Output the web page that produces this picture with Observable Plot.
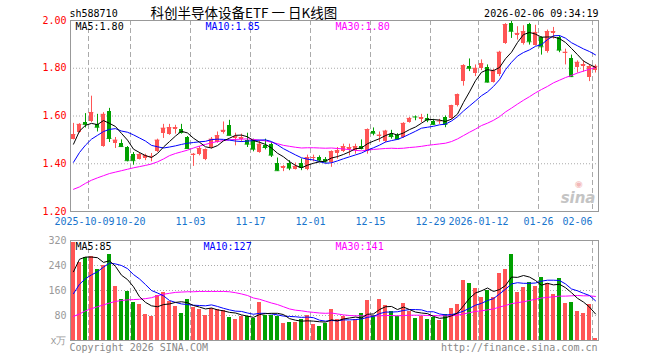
<!DOCTYPE html>
<html><head><meta charset="utf-8">
<script src="https://cdn.jsdelivr.net/npm/d3@7"></script>
<script src="https://cdn.jsdelivr.net/npm/@observablehq/plot@0.6"></script>
<style>
body{margin:0;background:#fff;}
#chart{position:relative;width:660px;height:360px;overflow:hidden;background:#fff;}
#chart svg{position:absolute;left:0;}
</style></head><body><div id="chart"></div>
<script>
const dates = ["2025-09-26","2025-09-29","2025-09-30","2025-10-09","2025-10-10","2025-10-13","2025-10-14","2025-10-15","2025-10-16","2025-10-17","2025-10-20","2025-10-21","2025-10-22","2025-10-23","2025-10-24","2025-10-27","2025-10-28","2025-10-29","2025-10-30","2025-10-31","2025-11-03","2025-11-04","2025-11-05","2025-11-06","2025-11-07","2025-11-10","2025-11-11","2025-11-12","2025-11-13","2025-11-14","2025-11-17","2025-11-18","2025-11-19","2025-11-20","2025-11-21","2025-11-24","2025-11-25","2025-11-26","2025-11-27","2025-11-28","2025-12-01","2025-12-02","2025-12-03","2025-12-04","2025-12-05","2025-12-08","2025-12-09","2025-12-10","2025-12-11","2025-12-12","2025-12-15","2025-12-16","2025-12-17","2025-12-18","2025-12-19","2025-12-22","2025-12-23","2025-12-24","2025-12-25","2025-12-26","2025-12-29","2025-12-30","2025-12-31","2026-01-05","2026-01-06","2026-01-07","2026-01-08","2026-01-09","2026-01-12","2026-01-13","2026-01-14","2026-01-15","2026-01-16","2026-01-19","2026-01-20","2026-01-21","2026-01-22","2026-01-23","2026-01-26","2026-01-27","2026-01-28","2026-01-29","2026-01-30","2026-02-02","2026-02-03","2026-02-04","2026-02-05","2026-02-06"];

const open = [
1.503,1.531,1.572,1.578,1.565,1.472,1.618,1.486,1.486,1.468,
1.438,1.419,1.424,1.425,1.453,1.528,1.524,1.544,1.544,1.510,
1.436,1.440,1.417,1.466,1.489,1.531,1.561,1.506,1.503,1.499,
1.496,1.447,1.475,1.482,1.403,1.382,1.399,1.378,1.399,1.378,
1.420,1.426,1.417,1.405,1.444,1.450,1.458,1.457,1.472,1.450,
1.535,1.514,1.492,1.524,1.520,1.510,1.572,1.600,1.586,1.589,
1.579,1.575,1.593,1.589,1.642,1.745,1.807,1.776,1.800,1.803,
1.742,1.773,1.904,1.988,1.936,1.904,1.983,1.897,1.928,1.870,
1.946,1.928,1.860,1.839,1.803,1.807,1.761,1.790];
const high = [
1.569,1.568,1.610,1.683,1.607,1.614,1.632,1.510,1.500,1.472,
1.447,1.447,1.440,1.443,1.503,1.565,1.565,1.561,1.565,1.514,
1.443,1.472,1.462,1.510,1.533,1.575,1.582,1.528,1.524,1.528,
1.503,1.496,1.503,1.489,1.424,1.392,1.413,1.403,1.420,1.436,
1.436,1.433,1.426,1.454,1.468,1.482,1.482,1.482,1.500,1.546,
1.550,1.533,1.540,1.540,1.526,1.572,1.594,1.600,1.607,1.607,
1.586,1.586,1.600,1.645,1.692,1.815,1.839,1.814,1.835,1.814,
1.795,1.871,1.987,2.000,1.974,1.978,1.988,1.980,1.932,1.960,
1.971,1.936,1.880,1.855,1.831,1.831,1.814,1.814];
const low = [
1.500,1.528,1.550,1.572,1.533,1.469,1.489,1.464,1.468,1.408,
1.394,1.416,1.413,1.408,1.447,1.506,1.519,1.524,1.524,1.461,
1.389,1.433,1.413,1.462,1.486,1.524,1.517,1.475,1.489,1.468,
1.450,1.444,1.458,1.426,1.368,1.367,1.371,1.374,1.371,1.371,
1.408,1.405,1.403,1.385,1.419,1.447,1.433,1.440,1.458,1.440,
1.517,1.490,1.488,1.503,1.500,1.506,1.570,1.580,1.572,1.572,
1.560,1.565,1.551,1.585,1.638,1.725,1.786,1.765,1.790,1.738,
1.738,1.765,1.900,1.925,1.918,1.897,1.897,1.893,1.855,1.863,
1.922,1.865,1.814,1.761,1.780,1.784,1.744,1.780];
const close = [
1.522,1.565,1.565,1.614,1.553,1.607,1.506,1.499,1.472,1.413,
1.413,1.439,1.433,1.431,1.499,1.549,1.551,1.551,1.531,1.464,
1.440,1.464,1.458,1.503,1.517,1.540,1.519,1.514,1.510,1.482,
1.461,1.482,1.468,1.436,1.371,1.388,1.382,1.389,1.385,1.426,
1.426,1.412,1.408,1.450,1.454,1.472,1.468,1.472,1.464,1.543,
1.528,1.520,1.537,1.514,1.503,1.569,1.590,1.596,1.593,1.583,
1.565,1.579,1.565,1.642,1.688,1.810,1.800,1.800,1.818,1.742,
1.788,1.867,1.983,1.955,1.946,1.953,1.911,1.950,1.890,1.953,
1.953,1.876,1.867,1.765,1.825,1.815,1.807,1.808];
const volume = [
315,250,266,268,227,240,275,173,131,157,
122,115,83,78,144,154,124,109,87,131,
107,100,79,104,98,95,73,68,78,77,
72,122,81,81,77,54,57,57,66,80,
51,44,54,100,68,78,61,68,86,128,
80,132,112,93,77,119,93,72,78,68,
75,64,82,104,115,191,184,166,139,159,
139,214,227,275,153,171,187,173,203,183,
146,197,117,123,94,85,116,7];

const ma5 = [
1.482,1.537,1.561,1.569,1.564,1.581,1.569,1.556,1.527,1.499,
1.461,1.447,1.434,1.426,1.443,1.470,1.493,1.516,1.536,1.529,
1.507,1.490,1.471,1.466,1.476,1.496,1.507,1.519,1.520,1.513,
1.497,1.490,1.481,1.466,1.444,1.429,1.409,1.393,1.383,1.394,
1.402,1.408,1.411,1.424,1.430,1.439,1.450,1.463,1.466,1.484,
1.495,1.505,1.518,1.528,1.520,1.529,1.543,1.554,1.570,1.586,
1.585,1.583,1.577,1.587,1.608,1.657,1.701,1.748,1.783,1.794,
1.790,1.803,1.840,1.867,1.908,1.941,1.950,1.943,1.930,1.931,
1.931,1.924,1.908,1.883,1.857,1.830,1.816,1.804];
const ma10 = [
1.406,1.447,1.478,1.503,1.519,1.535,1.544,1.547,1.537,1.532,
1.521,1.508,1.495,1.477,1.471,1.466,1.470,1.475,1.481,1.486,
1.489,1.492,1.494,1.501,1.503,1.502,1.499,1.495,1.493,1.495,
1.497,1.499,1.500,1.493,1.479,1.463,1.450,1.437,1.425,1.419,
1.416,1.409,1.402,1.404,1.412,1.421,1.429,1.437,1.445,1.457,
1.467,1.478,1.491,1.497,1.502,1.512,1.524,1.536,1.549,1.553,
1.557,1.563,1.566,1.579,1.597,1.621,1.642,1.663,1.685,1.701,
1.724,1.752,1.794,1.825,1.851,1.866,1.877,1.892,1.899,1.920,
1.936,1.937,1.926,1.907,1.894,1.881,1.870,1.856];
const ma30 = [
1.293,1.303,1.318,1.331,1.341,1.350,1.359,1.365,1.371,1.377,
1.383,1.388,1.393,1.399,1.408,1.420,1.434,1.443,1.450,1.457,
1.466,1.474,1.481,1.488,1.493,1.497,1.500,1.502,1.503,1.504,
1.502,1.499,1.496,1.490,1.484,1.477,1.473,1.469,1.466,1.467,
1.467,1.466,1.465,1.466,1.464,1.462,1.459,1.456,1.454,1.457,
1.460,1.462,1.464,1.465,1.464,1.465,1.468,1.470,1.473,1.477,
1.480,1.483,1.486,1.493,1.504,1.518,1.532,1.545,1.560,1.570,
1.582,1.597,1.617,1.633,1.650,1.666,1.681,1.697,1.711,1.724,
1.739,1.750,1.761,1.770,1.780,1.788,1.796,1.803];
const vma5 = [
220,260,267,267,265,250,255,237,209,195,
172,140,122,111,108,115,117,122,124,121,
112,107,101,104,98,95,90,88,82,78,
74,83,86,87,87,83,70,65,62,63,
62,60,59,66,63,69,72,75,72,84,
85,99,108,109,99,107,99,91,88,86,
77,71,73,79,88,111,135,152,159,168,
157,163,176,203,202,208,203,192,177,183,
178,180,169,153,135,123,107,85];
const vma10 = [
150,180,198,210,220,235,248,245,240,230,
211,197,179,160,152,143,128,122,117,115,
113,112,111,114,109,103,98,94,93,88,
84,87,87,85,82,78,77,76,74,75,
73,65,62,64,63,66,66,67,69,74,
77,86,91,91,92,96,99,99,98,92,
92,85,82,83,87,94,103,113,119,128,
134,149,164,181,185,183,183,184,190,193,
193,192,181,165,159,151,144,127];
const vma30 = [
77,85,95,102,108,114,120,125,128,130,
131,132,134,137,143,148,151,154,155,156,
156,157,157,157,157,157,156,153,149,144,
136,132,126,120,115,108,101,97,95,92,
90,88,87,88,85,82,80,79,79,79,
78,79,80,80,79,80,81,81,81,80,
80,79,79,79,81,85,89,93,95,98,
101,107,112,118,121,124,128,132,136,138,
140,142,142,143,144,143,143,141];

const tickDates = ["2025-10-09","2025-10-20","2025-11-03","2025-11-17","2025-12-01","2025-12-15","2025-12-29","2026-01-12","2026-01-26","2026-02-06"];
const tickLabels = ["2025-10-09","10-20","11-03","11-17","12-01","12-15","12-29","2026-01-12","01-26","02-06"];
const priceTicks = [1.20, 1.40, 1.60, 1.80, 2.00];
const volTicks = [0, 80, 160, 240, 320];
const volTickLabels = ["x万", "80", "160", "240", "320"];
const code = "sh588710";
const titleText = "科创半导体设备ETF 一 日K线图";
const stamp = "2026-02-06 09:34:19";
const priceMaLabels = ["MA5:1.80", "MA10:1.85", "MA30:1.80"];
const volMaLabels = ["MA5:85", "MA10:127", "MA30:141"];
const copyright = "Copyright 2026 SINA.COM";
const siteUrl = "http://finance.sina.com.cn";

const RED = "#ff5555", GREEN = "#00a000", GRID = "#aaaaaa";
const MONO = "'DejaVu Sans Mono', 'Liberation Mono', monospace";
const bars = dates.map((date, i) => ({
  i, date, open: open[i], high: high[i], low: low[i], close: close[i], volume: volume[i],
  ma5: ma5[i], ma10: ma10[i], ma30: ma30[i], vma5: vma5[i], vma10: vma10[i], vma30: vma30[i],
  color: close[i] >= open[i] ? RED : GREEN
}));
const ticks = tickDates.map((d, k) => ({pos: dates.indexOf(d) - 0.5, label: tickLabels[k]}));
const xDomain = [-0.5, dates.length - 0.5];
const W = 660, ML = 70, MR = 62;

const pricePlot = Plot.plot({
  width: W, height: 240, marginLeft: ML, marginRight: MR, marginTop: 20, marginBottom: 29,
  style: {fontFamily: MONO, fontSize: "10px", background: "transparent", overflow: "visible"},
  x: {domain: xDomain, axis: null},
  y: {domain: [1.2, 2.0], axis: null},
  marks: [
    Plot.ruleY(priceTicks.slice(1, -1), {stroke: GRID, strokeDasharray: "1,2"}),
    Plot.ruleX(ticks, {x: "pos", stroke: GRID, strokeDasharray: "5,3"}),
    Plot.text(["sina"], {frameAnchor: "bottom-right", dx: -3, dy: -9, fill: "#c4c4c4", fontSize: 15, fontWeight: "bold", fontStyle: "italic", fontFamily: "'DejaVu Sans', sans-serif", textAnchor: "end"}),
    Plot.text(["◉"], {frameAnchor: "bottom-right", dx: -16, dy: -25, fill: "#f2b8b8", fontSize: 9, fontFamily: "'DejaVu Sans', sans-serif"}),
    Plot.ruleX(bars, {x: "i", y1: "low", y2: "high", stroke: "color"}),
    Plot.rect(bars, {x1: d => d.i - 0.4, x2: d => d.i + 0.4, y1: "open", y2: "close", fill: "color", shapeRendering: "crispEdges"}),
    Plot.ruleY(bars, {x1: d => d.i - 0.4, x2: d => d.i + 0.4, y: "close", stroke: "color"}),
    Plot.line(bars, {x: "i", y: "ma30", stroke: "#ff00ff", strokeWidth: 1}),
    Plot.line(bars, {x: "i", y: "ma10", stroke: "#0000ff", strokeWidth: 1}),
    Plot.line(bars, {x: "i", y: "ma5", stroke: "#000000", strokeWidth: 1}),
    Plot.frame({stroke: "#999999"}),
    Plot.axisY(priceTicks, {tickSize: 0, tickPadding: 4, fill: "#ff0000", tickFormat: d => d.toFixed(2), fontSize: 10}),
    Plot.text(ticks.slice(0, 1), {x: "pos", text: "label", frameAnchor: "bottom", dy: 10, dx: -4, lineAnchor: "middle", fill: "#1874cd"}),
    Plot.text(ticks.slice(1, -1), {x: "pos", text: "label", frameAnchor: "bottom", dy: 10, lineAnchor: "middle", fill: "#1874cd"}),
    Plot.text(ticks.slice(-1), {x: "pos", text: "label", frameAnchor: "bottom", dy: 10, lineAnchor: "middle", textAnchor: "end", fill: "#1874cd"}),
    Plot.text([code], {frameAnchor: "top-left", dx: -1, dy: -7, lineAnchor: "middle", textAnchor: "start", fill: "#000"}),
    Plot.text([titleText], {frameAnchor: "top-left", dx: 80, dy: -7, lineAnchor: "middle", textAnchor: "start", fill: "#000", fontSize: 13.5, fontFamily: "'Noto Sans CJK SC', sans-serif"}),
    Plot.text([stamp], {frameAnchor: "top-right", dx: 0, dy: -7, lineAnchor: "middle", textAnchor: "end", fill: "#000"}),
    Plot.text([priceMaLabels[0]], {frameAnchor: "top-left", dx: 5, dy: 6, lineAnchor: "middle", textAnchor: "start", fill: "#000"}),
    Plot.text([priceMaLabels[1]], {frameAnchor: "top-left", dx: 135, dy: 6, lineAnchor: "middle", textAnchor: "start", fill: "#0000ff"}),
    Plot.text([priceMaLabels[2]], {frameAnchor: "top-left", dx: 265, dy: 6, lineAnchor: "middle", textAnchor: "start", fill: "#ff00ff"})
  ]
});
pricePlot.style.top = "0px";

const volumePlot = Plot.plot({
  width: W, height: 130, marginLeft: ML, marginRight: MR, marginTop: 10, marginBottom: 20,
  style: {fontFamily: MONO, fontSize: "10px", background: "transparent", overflow: "visible"},
  x: {domain: xDomain, axis: null},
  y: {domain: [0, 320], axis: null},
  marks: [
    Plot.ruleY(volTicks.slice(1, -1), {stroke: GRID, strokeDasharray: "1,2"}),
    Plot.ruleX(ticks, {x: "pos", stroke: GRID, strokeDasharray: "5,3"}),
    Plot.rect(bars, {x1: d => d.i - 0.4, x2: d => d.i + 0.4, y1: 0, y2: "volume", fill: "color", shapeRendering: "crispEdges"}),
    Plot.line(bars, {x: "i", y: "vma30", stroke: "#ff00ff", strokeWidth: 1}),
    Plot.line(bars, {x: "i", y: "vma10", stroke: "#0000ff", strokeWidth: 1}),
    Plot.line(bars, {x: "i", y: "vma5", stroke: "#000000", strokeWidth: 1}),
    Plot.frame({stroke: "#999999"}),
    Plot.axisY(volTicks, {tickSize: 0, tickPadding: 4, fill: "#999999", tickFormat: d => volTickLabels[volTicks.indexOf(d)], fontSize: 10}),
    Plot.text([volMaLabels[0]], {frameAnchor: "top-left", dx: 5, dy: 6, lineAnchor: "middle", textAnchor: "start", fill: "#000"}),
    Plot.text([volMaLabels[1]], {frameAnchor: "top-left", dx: 133, dy: 6, lineAnchor: "middle", textAnchor: "start", fill: "#0000ff"}),
    Plot.text([volMaLabels[2]], {frameAnchor: "top-left", dx: 265, dy: 6, lineAnchor: "middle", textAnchor: "start", fill: "#ff00ff"}),
    Plot.text([copyright], {frameAnchor: "bottom-left", dx: -1, dy: 7, lineAnchor: "middle", textAnchor: "start", fill: "#888888"}),
    Plot.text([siteUrl], {frameAnchor: "bottom-right", dx: -1, dy: 7, lineAnchor: "middle", textAnchor: "end", fill: "#888888"})
  ]
});
volumePlot.style.top = "230px";

const chart = document.getElementById("chart");
chart.appendChild(pricePlot);
chart.appendChild(volumePlot);
</script>
</body></html>
